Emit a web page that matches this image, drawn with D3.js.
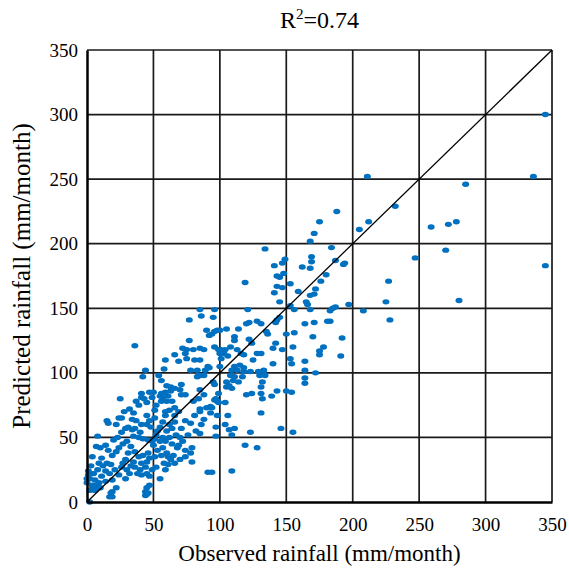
<!DOCTYPE html>
<html>
<head>
<meta charset="utf-8">
<script src="https://cdn.jsdelivr.net/npm/d3@7"></script>
<style>
  body { margin: 0; background: #fff; }
  svg, svg text { font-family: "Liberation Serif", "Times New Roman", serif; fill: #000; }
</style>
</head>
<body>
<div id="chart"></div>
<script>
// tick values
var xTicks = [0, 50, 100, 150, 200, 250, 300, 350];
var yTicks = [0, 50, 100, 150, 200, 250, 300, 350];

// observed / predicted pairs (mm/month)
var highPts = [
  [345,300],[211,252],[336,252],[285,246],[188,225],[232,229],[212,217],[205,211],[259,213],[272,215],
  [278,217],[184,197],[187,187],[193,184],[194,185],[247,189],[270,195],[345,183],[227,171],[225,155],
  [280,156],[197,153],[187,151],[185,150],[183,148],[208,148],[228,141],[183,140],[192,127]
];
var midPts = [
  [175,217],[171,208],[168,202],[134,196],[149,188],[147,185],[169,190],[169,186],[141,183],[162,182],
  [168,181],[148,177],[143,175],[145,174],[119,170],[153,169],[180,176],[176,171],[143,167],[147,166],
  [141,162],[172,165],[171,161],[168,160],[159,163],[145,155],[165,155],[166,153],[153,152],[156,149],
  [168,149],[121,149],[145,143],[143,141],[142,139],[122,139],[120,138],[128,140],[131,138],[114,134],
  [105,134],[100,133],[135,132],[136,130],[164,138],[171,139],[181,140],[150,130],[156,131],[170,128],
  [111,128],[111,125],[122,126],[124,123],[142,123],[140,119],[155,120],[147,118],[178,120],[175,117],
  [175,114],[191,113],[108,120],[104,118],[101,118],[113,118],[116,115],[118,114],[103,115],[106,113],
  [101,111],[128,115],[131,115],[125,110],[153,111],[154,107],[164,109],[140,107],[115,106],[111,105],
  [118,104],[100,105]
];
var centerPts = [
  [96,149],[95,143],[85,149],[86,144],[90,133],[96,132],[94,130],[92,129],[98,133],[85,119],
  [88,118],[96,120],[99,118],[100,115],[164,102],[172,100],[164,96],[164,92],[85,110],[91,105],
  [89,102],[92,104],[88,98],[85,98],[96,91],[95,93],[99,84],[97,80],[105,93],[108,98],
  [111,97],[109,102],[113,102],[118,101],[117,97],[110,94],[123,101],[129,101],[130,98],[133,99],
  [132,93],[131,89],[105,89],[109,88],[107,90],[114,93],[124,84],[120,83],[131,84],[132,80],
  [143,86],[150,86],[154,85],[139,82],[133,102],[134,98],
  [96,79],[99,77],[98,78],[104,77],[85,72],[90,73],[93,74],[94,73],[93,69],[98,67],
  [106,67],[131,69],[104,60],[97,58],[85,53],[107,56],[111,57],[109,52],[97,51],[123,54],
  [146,57],[155,54],[119,44],[128,42],[91,23],[94,23],[109,24]
];
var leftPts = [
  [77,141],[36,121],[77,125],[72,119],[75,118],[80,118],[66,114],[74,115],[75,111],[59,110],
  [69,109],[81,110],[44,102],[58,103],[78,102],[83,102],[84,98],[83,97],[42,97],[54,98],
  [56,94],[71,91],[70,87],[66,88],[63,86],[60,90],[59,85],[56,84],[47,85],[50,85],
  [41,84],[63,89],[74,83],[71,83],[55,82],[57,81],[61,82],[43,80],[49,81],[25,80],
  [85,87],[88,83]
];
var lowPts = [
  [37,78],[41,81],[45,77],[39,75],[56,78],[52,75],[60,78],[64,78],[80,78],[84,80],
  [51,71],[59,70],[62,71],[66,73],[69,70],[59,67],[66,67],[24,65],[26,65],[34,64],
  [37,63],[45,67],[47,63],[51,65],[45,60],[41,60],[15,63],[16,61],[22,60],[74,63],
  [81,67],[85,70],[78,61],[71,57],[64,57],[57,62],[31,58],[29,57],[34,56],[36,57],
  [40,54],[26,54],[8,51],[35,51],[39,50],[42,49],[46,48],[49,47],[51,49],[55,47],
  [50,44],[59,47],[64,45],[69,44],[74,40],[79,42],[78,38],[68,42],[7,43],[10,42],
  [14,44],[16,40],[24,42],[22,39],[19,36],[4,35],[11,34],[31,38],[36,39],[39,35],
  [42,36],[46,38],[47,34],[51,35],[45,31],[41,30],[35,31],[29,33],[56,36],[61,35],
  [63,33],[66,30],[74,35],[1,24],[5,22],[2,18],[6,17],[0,15],[4,13],[9,15],
  [11,20],[14,24],[17,22],[21,25],[24,21],[19,17],[14,16],[10,11],[6,11],[2,9],
  [26,27],[30,25],[32,22],[36,27],[40,25],[29,18],[44,27],[49,25],[52,27],[61,29],
  [59,25],[47,20],[47,13],[22,11],[19,8],[17,4],[44,8],[46,7],[45,6],[2,0],
  [79,31],[45,11],[44,5],[18,7],[19,4],[4,12],[7,13],[6,9],[0,18],[1,21],
  [4,22],[41,21],[45,22]
];
var densePts = [
  [27,45],[30,47],[33,43],[53,55],[55,58],[60,55],[62,60],[67,52],[70,50],[72,47],
  [76,52],[82,55],[86,60],[88,64],[53,40],[57,42],[60,38],[65,36],[70,33],[12,28],
  [15,30],[18,29],[8,25],[9,30],[3,28],[28,70],[32,72],[35,69],[48,58],[52,52],
  [57,50],[62,50],[66,62],[20,48],[23,50],[27,30],[33,28],[38,22],[55,18],[58,30]
];

var points = highPts.concat(midPts, centerPts, leftPts, lowPts, densePts);

var margin = {top: 50, right: 17, bottom: 73, left: 87},
    width = 569 - margin.left - margin.right,
    height = 575 - margin.top - margin.bottom;

var svg = d3.select("#chart")
  .append("svg")
    .attr("width", 569)
    .attr("height", 575)
  .append("g")
    .attr("transform", "translate(" + margin.left + "," + margin.top + ")");

var x = d3.scaleLinear().domain([0, 350]).range([0, width]);
var y = d3.scaleLinear().domain([0, 350]).range([height, 0]);

// grid lines
svg.append("g")
  .selectAll("line.vg")
  .data(xTicks.slice(1))
  .enter()
  .append("line")
    .attr("x1", d => x(d)).attr("x2", d => x(d))
    .attr("y1", 0).attr("y2", height)
    .style("stroke", "#1a1a1a")
    .style("stroke-width", 1.7);
svg.append("g")
  .selectAll("line.hg")
  .data(yTicks.slice(1))
  .enter()
  .append("line")
    .attr("x1", 0).attr("x2", width)
    .attr("y1", d => y(d)).attr("y2", d => y(d))
    .style("stroke", "#1a1a1a")
    .style("stroke-width", 1.7);

// dots
svg.append("g")
  .selectAll("ellipse")
  .data(points)
  .enter()
  .append("ellipse")
    .attr("cx", d => x(d[0]))
    .attr("cy", d => y(d[1]))
    .attr("rx", 3.5)
    .attr("ry", 2.7)
    .style("fill", "#0070C0");

// 1:1 line, drawn over the dots
svg.append("line")
  .attr("x1", x(0)).attr("y1", y(0))
  .attr("x2", x(350)).attr("y2", y(350))
  .style("stroke", "#000")
  .style("stroke-width", 1.3);

// axes
var xAxis = svg.append("g")
  .attr("transform", "translate(0," + height + ")")
  .call(d3.axisBottom(x).tickValues(xTicks).tickSize(0).tickPadding(16));
var yAxis = svg.append("g")
  .call(d3.axisLeft(y).tickValues(yTicks).tickSize(0).tickPadding(9));
[xAxis, yAxis].forEach(function(a) {
  a.attr("font-family", null).attr("font-size", null);
  a.select(".domain").style("stroke", "#000").style("stroke-width", 2.5);
  a.selectAll("text")
    .style("font-size", "19px")
    .style("font-family", "'Liberation Serif', serif");
});

// title
var title = svg.append("text")
  .attr("x", width / 2)
  .attr("y", -22)
  .attr("text-anchor", "middle")
  .style("font-size", "24px");
title.append("tspan").text("R");
title.append("tspan").attr("dy", -9).style("font-size", "15px").text("2");
title.append("tspan").attr("dy", 9).text("=0.74");

// axis titles
svg.append("text")
  .attr("x", width / 2)
  .attr("y", height + 59)
  .attr("text-anchor", "middle")
  .style("font-size", "23px")
  .text("Observed rainfall (mm/month)");

svg.append("text")
  .attr("transform", "rotate(-90)")
  .attr("x", -height / 2)
  .attr("y", -57)
  .attr("text-anchor", "middle")
  .style("font-size", "25px")
  .text("Predicted rainfall (mm/month)");
</script>
</body>
</html>
